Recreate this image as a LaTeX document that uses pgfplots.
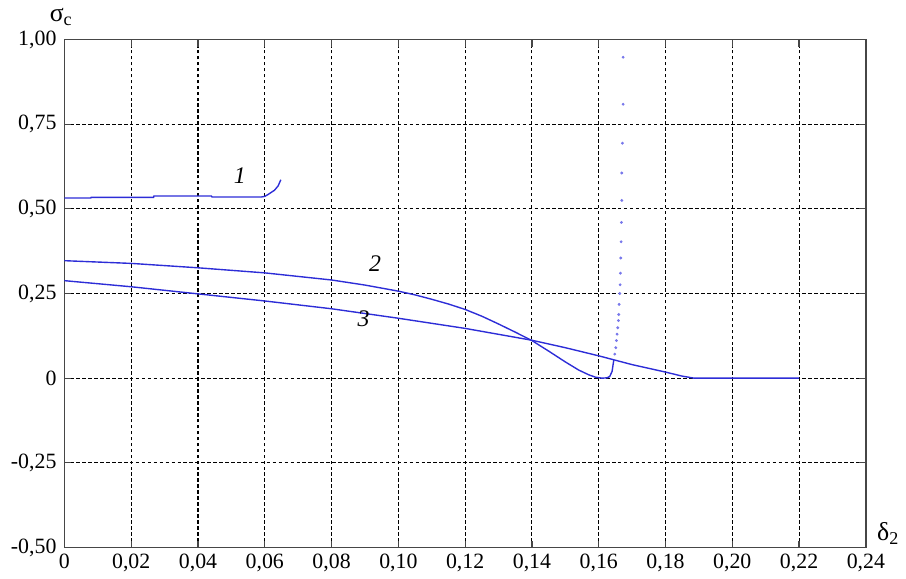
\documentclass[border=0pt]{standalone}
\usepackage{fontspec}
\setmainfont{Liberation Serif}
\usepackage{pgfplots}
\pgfplotsset{compat=1.18}
\definecolor{curve}{RGB}{45,45,215}
\definecolor{dots}{RGB}{120,120,235}
\definecolor{frame}{RGB}{70,70,70}
\begin{document}
\begin{tikzpicture}
\begin{axis}[
  scale only axis, width=404pt, height=256pt,
  xmin=0, xmax=0.24, ymin=-0.5, ymax=1,
  xtick={0,0.02,0.04,0.06,0.08,0.10,0.12,0.14,0.16,0.18,0.20,0.22,0.24},
  xticklabels={{0},{0,02},{0,04},{0,06},{0,08},{0,10},{0,12},{0,14},{0,16},{0,18},{0,20},{0,22},{0,24}},
  ytick={-0.5,-0.25,0,0.25,0.5,0.75,1},
  yticklabels={{-0,50},{-0,25},{0},{0,25},{0,50},{0,75},{1,00}},
  grid=major,
  major grid style={black, line width=0.55pt, dash pattern=on 1.8pt off 1.2pt},
  axis line style={frame, line width=0.8pt},
  tick style={frame, line width=0.6pt},
  major tick length=3.5pt,
  tick align=inside,
  ticklabel style={font=\fontsize{11}{13}\selectfont},
  xticklabel style={yshift=0pt},
  yticklabel style={xshift=-0.5pt},
  clip=false,
]
% curve 1
\addplot[curve, line width=0.7pt] coordinates {
(0,0.532) (0.0079,0.532) (0.0080,0.534) (0.0267,0.534) (0.0268,0.538)
(0.0440,0.538) (0.0442,0.535) (0.0589,0.535) (0.0600,0.537)
(0.0609,0.542) (0.0629,0.555) (0.0640,0.568) (0.0648,0.586)
};
% curve 2
\addplot[curve, line width=0.7pt] coordinates {
(0,0.347) (0.02,0.339) (0.04,0.326) (0.06,0.311) (0.08,0.290)
(0.09,0.275) (0.10,0.257) (0.105,0.246) (0.11,0.233) (0.115,0.219)
(0.12,0.203) (0.125,0.183) (0.13,0.160) (0.135,0.136) (0.14,0.111)
(0.145,0.080) (0.15,0.048) (0.154,0.024) (0.157,0.010) (0.159,0.003)
(0.161,0.000) (0.1625,0.001) (0.1633,0.005) (0.1640,0.020) (0.1645,0.053)
};
\addplot[only marks, mark=*, mark size=0.5pt, dots] coordinates {
(0.1648,0.071) (0.1651,0.090) (0.1653,0.111) (0.1655,0.130)
(0.1657,0.149) (0.1659,0.170) (0.1660,0.188) (0.1661,0.218)
(0.1663,0.250) (0.1664,0.276) (0.1665,0.310) (0.1666,0.355)
(0.1667,0.403) (0.1668,0.460) (0.1669,0.525) (0.1669,0.606)
(0.1671,0.694) (0.1673,0.809) (0.1673,0.948)
};
% curve 3
\addplot[curve, line width=0.7pt] coordinates {
(0,0.288) (0.02,0.270) (0.04,0.249) (0.06,0.228) (0.08,0.205)
(0.10,0.177) (0.12,0.147) (0.14,0.112) (0.15,0.090) (0.16,0.066)
(0.17,0.040) (0.18,0.018) (0.185,0.006) (0.1886,0.000) (0.22,0.000)
};
\node[font=\fontsize{12}{14}\selectfont\itshape] at (axis cs:0.0525,0.599) {1};
\node[font=\fontsize{12}{14}\selectfont\itshape] at (axis cs:0.093,0.337) {2};
\node[font=\fontsize{12}{14}\selectfont\itshape] at (axis cs:0.0896,0.177) {3};
\node[font=\fontsize{13}{15}\selectfont] at (rel axis cs:-0.004,1.045) {σ\textsubscript{c}};
\node[font=\fontsize{13}{15}\selectfont] at (rel axis cs:1.028,0.028) {δ\textsubscript{2}};
\path (rel axis cs:-0.0804,-0.0527) rectangle (rel axis cs:1.0408,1.078);
\end{axis}
\end{tikzpicture}
\end{document}
